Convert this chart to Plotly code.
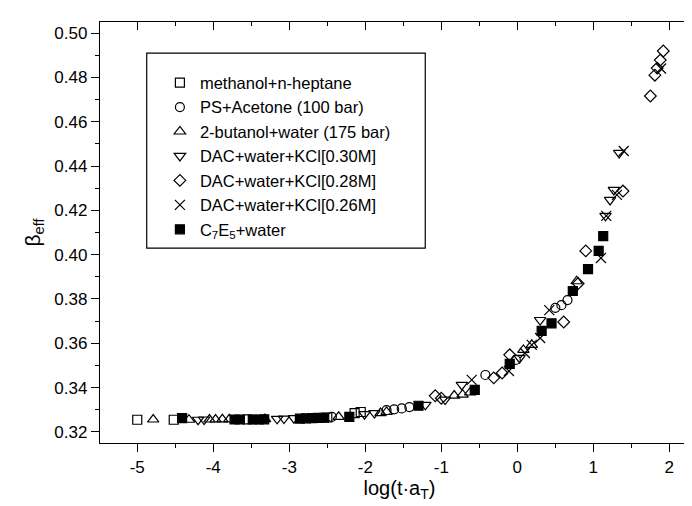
import plotly.graph_objects as go

# ---- data ----
mh_x = [-5.00, -4.52, -3.55, -2.50, -2.14, -2.06]
mh_y = [0.3255, 0.3255, 0.3257, 0.3265, 0.3285, 0.3290]

ps_x = [-2.44, -1.72, -1.62, -1.52, -1.42, -0.42, -0.02, 0.50, 0.58, 0.66]
ps_y = [0.3268, 0.3298, 0.3302, 0.3306, 0.3312, 0.3457, 0.3525, 0.3760, 0.3772, 0.3795]

bw_x = [-4.79, -4.32, -4.05, -3.97, -3.88, -3.79, -3.32, -2.35, -1.80, -1.72, -0.83, -0.72, -0.62, 0.08, 0.19, 0.78]
bw_y = [0.3256, 0.3255, 0.3256, 0.3256, 0.3257, 0.3257, 0.3258, 0.3268, 0.3285, 0.3290, 0.3364, 0.3368, 0.3378, 0.3570, 0.3593, 0.3880]

d30_x = [-4.20, -4.12, -3.16, -3.07, -2.94, -2.01, -1.88, -1.21, -0.95, -0.73, 0.03, 0.30, 1.16, 1.22, 1.27, 1.34]
d30_y = [0.3255, 0.3256, 0.3259, 0.3260, 0.3262, 0.3280, 0.3285, 0.3322, 0.3346, 0.3412, 0.3534, 0.3705, 0.4175, 0.4247, 0.4292, 0.4459]

d28_x = [-1.08, -1.00, -0.31, -0.20, -0.10, 0.61, 0.80, 0.90, 1.39, 1.75, 1.81, 1.84, 1.88, 1.92]
d28_y = [0.3363, 0.3352, 0.3444, 0.3466, 0.3548, 0.3696, 0.3870, 0.4017, 0.4287, 0.4716, 0.4810, 0.4842, 0.4878, 0.4919]

d26_x = [-0.60, -0.11, 0.10, 0.19, 0.30, 0.42, 1.10, 1.17, 1.31, 1.40, 1.89]
d26_y = [0.3435, 0.3475, 0.3556, 0.3593, 0.3624, 0.3750, 0.3985, 0.4175, 0.4270, 0.4468, 0.4840]

c7_x = [-4.41, -3.72, -3.65, -3.48, -3.40, -3.33, -2.86, -2.78, -2.70, -2.62, -2.54, -2.21,
        -1.30, -0.56, -0.10, 0.32, 0.45, 0.73, 0.93, 1.07, 1.13]
c7_y = [0.3262, 0.3256, 0.3256, 0.3256, 0.3256, 0.3257, 0.3260, 0.3261, 0.3262, 0.3263, 0.3264, 0.3268,
        0.3318, 0.3390, 0.3507, 0.3656, 0.3690, 0.3836, 0.3935, 0.4017, 0.4084]

x_tickvals = [-5, -4, -3, -2, -1, 0, 1, 2]
x_ticktext = ["-5", "-4", "-3", "-2", "-1", "0", "1", "2"]

series = [
    ("methanol+n-heptane", mh_x, mh_y, "square-open", 9),
    ("PS+Acetone (100 bar)", ps_x, ps_y, "circle-open", 9),
    ("2-butanol+water (175 bar)", bw_x, bw_y, "triangle-up-open", 10),
    ("DAC+water+KCl[0.30M]", d30_x, d30_y, "triangle-down-open", 10),
    ("DAC+water+KCl[0.28M]", d28_x, d28_y, "diamond-open", 9),
    ("DAC+water+KCl[0.26M]", d26_x, d26_y, "x-thin-open", 10),
    ("C<sub>7</sub>E<sub>5</sub>+water", c7_x, c7_y, "square", 9),
]

FONT = "Liberation Sans, Arial, sans-serif"
fig = go.Figure()
for name, xs, ys, sym, sz in series:
    fig.add_trace(go.Scatter(
        x=xs, y=ys, mode="markers", name=name,
        marker=dict(symbol=sym, size=sz, color="black",
                    line=dict(color="black", width=1.2)),
    ))

# empty trace to activate mirrored top/right axes
fig.add_trace(go.Scatter(x=[], y=[], xaxis="x2", yaxis="y2", showlegend=False))

XR = [-5.49, 2.39]
YR = [0.315, 0.505]

fig.update_layout(
    width=692, height=506,
    margin=dict(l=92, r=1, t=14, b=71),
    paper_bgcolor="white", plot_bgcolor="white",
    font=dict(family=FONT, size=17, color="black"),
    showlegend=True,
    legend=dict(x=0.10, y=0.897, xanchor="left", yanchor="top",
                bgcolor="rgba(0,0,0,0)", borderwidth=0,
                font=dict(size=16.5, family=FONT), tracegroupgap=0),
    xaxis=dict(range=XR, showline=True, linecolor="black", linewidth=1.3,
               ticks="outside", ticklen=8, tickwidth=1.2, tickcolor="black",
               tickmode="array", tickvals=x_tickvals, ticktext=x_ticktext,
               showgrid=False, zeroline=False,
               minor=dict(ticks="outside", ticklen=4, dtick=0.5, tick0=0, tickcolor="black", showgrid=False),
               tickfont=dict(size=17),
               title=dict(text="log(t·a<sub>T</sub>)", font=dict(size=20), standoff=4)),
    yaxis=dict(range=YR, showline=True, linecolor="black", linewidth=1.3,
               ticks="outside", ticklen=8, tickwidth=1.2, tickcolor="black",
               dtick=0.02, tick0=0.32, tickformat=".2f", showgrid=False, zeroline=False,
               minor=dict(ticks="outside", ticklen=4, dtick=0.01, tick0=0.32, tickcolor="black", showgrid=False),
               tickfont=dict(size=17),
               title=dict(text="β<sub>eff</sub>", font=dict(size=21), standoff=8)),
    xaxis2=dict(range=XR, overlaying="x", side="top", anchor="y", showline=True,
                linecolor="black", linewidth=1.3, ticks="inside", ticklen=8, tickwidth=1.2,
                tickcolor="black", dtick=1, tick0=0, showticklabels=False, showgrid=False, zeroline=False,
                minor=dict(ticks="inside", ticklen=4, dtick=0.5, tick0=0, tickcolor="black", showgrid=False)),
    yaxis2=dict(range=YR, overlaying="y", side="right", anchor="x", showline=True,
                linecolor="black", linewidth=1.3, ticks="inside", ticklen=8, tickwidth=1.2,
                tickcolor="black", dtick=0.02, tick0=0.32, showticklabels=False, showgrid=False, zeroline=False,
                minor=dict(ticks="inside", ticklen=4, dtick=0.01, tick0=0.32, tickcolor="black", showgrid=False)),
    shapes=[dict(type="rect", xref="paper", yref="paper",
                 x0=0.078, x1=0.543, y0=0.463, y1=0.926,
                 line=dict(color="black", width=1.2), fillcolor="rgba(0,0,0,0)", layer="above")],
)

fig.write_html("out.html")
